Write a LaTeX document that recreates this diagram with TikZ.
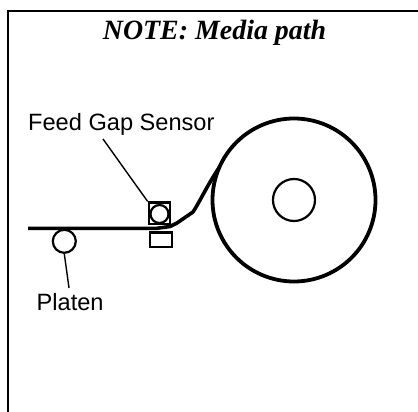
\documentclass[tikz,border=0pt]{standalone}
\usepackage{fontspec}
\setmainfont{Liberation Sans}
\newfontfamily\serifbi{Liberation Serif}
\tikzset{
  thinline/.style={draw=black,line width=1.4pt},
  partline/.style={draw=black,line width=2.2pt},
  labeltext/.style={inner sep=0pt,anchor=base west,font=\fontsize{23.6}{26}\selectfont},
}
\begin{document}
\begin{tikzpicture}[x=1pt,y=-1pt]
\useasboundingbox (0,0) rectangle (418,412);
\draw[line width=2.4pt] (8,412) -- (8,11) -- (418,11);
\node[inner sep=0pt,anchor=base] (title) at (214.5,40) {\serifbi\fontsize{27.9}{30}\selectfont\bfseries\itshape NOTE: Media path};
% spool
\node[circle,draw,line width=3.8pt,minimum size=163pt,inner sep=0pt] (spool) at (294,200) {};
\node[circle,partline,minimum size=42pt,inner sep=0pt] (hub) at (294,200) {};
% sensor
\node[rectangle,partline,minimum width=21.5pt,minimum height=21.5pt,inner sep=0pt] (sensorbox) at (159.5,213.3) {};
\node[circle,partline,minimum size=18pt,inner sep=0pt] (sensorroll) at (159.5,214) {};
\node[rectangle,partline,minimum width=21.5pt,minimum height=14.5pt,inner sep=0pt] (lowerbox) at (161,239.7) {};
% platen
\node[circle,partline,minimum size=23pt,inner sep=0pt] (platen) at (64.3,241.3) {};
% media
\coordinate (mstart) at (28,228.3);
\coordinate (mend) at (219.5,167);
\draw[line width=3.6pt,line join=round] (mstart) -- (157,228.3) -- (170,226.5) -- (177,223) -- (193,212) .. controls (199,203) and (208,184) .. (mend);
% labels
\node[labeltext] (feed) at (28,130.7) {Feed Gap Sensor};
\node[labeltext] (plat) at (36.5,310) {Platen};
\coordinate (feedend) at (103,139);
\coordinate (platend) at (69,288);
\draw[thinline] (feedend) -- (sensorbox.north west);
\draw[thinline] (platen.south) -- (platend);
\end{tikzpicture}
\end{document}
